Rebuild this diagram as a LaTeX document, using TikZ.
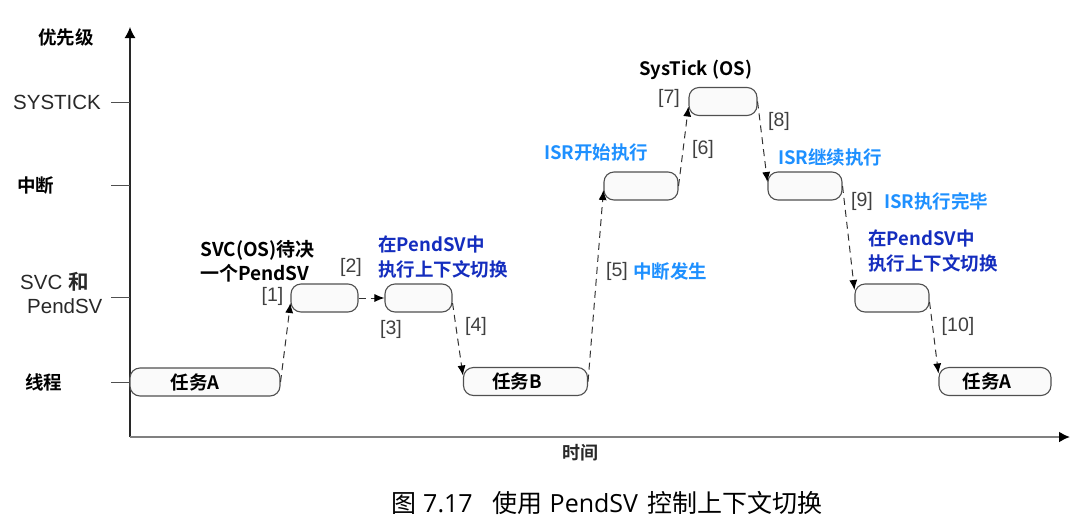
\documentclass[tikz,border=0pt]{standalone}
\usepackage{fontspec}
\setmainfont{Liberation Sans}
\newfontfamily\cjk{Noto Sans CJK SC}[BoldFont={Noto Sans CJK SC Bold}]
\newfontfamily\lat{Open Sans}
\usetikzlibrary{arrows.meta}
\definecolor{lblue}{RGB}{30,144,255}
\definecolor{dblue}{RGB}{20,45,190}
\definecolor{numc}{RGB}{64,64,64}
\definecolor{boxc}{RGB}{80,80,80}
\definecolor{boxfill}{RGB}{250,250,250}
\definecolor{connc}{RGB}{50,50,50}
\definecolor{axisc}{RGB}{40,40,40}
\definecolor{xaxisc}{RGB}{128,128,128}
\begin{document}
\begin{tikzpicture}[x=1pt,y=-1pt,
  box/.style={draw=boxc, line width=1.1pt, rounded corners=10pt, fill=boxfill, minimum height=28pt, inner sep=0pt},
  conn/.style={draw=connc, line width=1pt, dash pattern=on 7pt off 5pt, -{Latex[length=10pt,width=8pt,color=black]}},
  num/.style={text=numc, font=\fontsize{19.5}{22}\selectfont, inner sep=0pt},
  axlbl/.style={text=axisc, font=\fontsize{20.5}{24}\selectfont, inner sep=0pt, anchor=west},
  zh/.style={font=\cjk\bfseries\fontsize{18.5}{25}\selectfont, inner sep=0pt, align=left},
  tick/.style={draw=boxc, line width=1pt}]
\useasboundingbox (0,0) rectangle (1088,531);
% axes
\coordinate (O) at (130,437);
\coordinate (ytop) at (130,27);
\coordinate (xend) at (1070,437);
\draw[line width=1.3pt, draw=axisc, -{Latex[length=11pt,width=11pt,color=black]}] (O) -- (ytop);
\draw[line width=2pt, draw=xaxisc, -{Latex[length=11pt,width=11pt,color=black]}] (O) -- (xend);
% ticks
\coordinate (t1a) at (111,102); \coordinate (t1b) at (130,102);
\coordinate (t2a) at (111,185); \coordinate (t2b) at (130,185);
\coordinate (t3a) at (111,297); \coordinate (t3b) at (130,297);
\coordinate (t4a) at (111,382); \coordinate (t4b) at (130,382);
\draw[tick] (t1a) -- (t1b);
\draw[tick] (t2a) -- (t2b);
\draw[tick] (t3a) -- (t3b);
\draw[tick] (t4a) -- (t4b);
% axis labels
\node[zh, anchor=west] (prio) at (38,37) {优先级};
\node[axlbl] (lsys) at (13,102) {SYSTICK};
\node[zh, anchor=west] (lint) at (17,185) {中断};
\node[axlbl] (lsvc) at (20,282) {SVC {\cjk\bfseries 和}};
\node[axlbl] (lpsv) at (27,306) {PendSV};
\node[zh, anchor=west] (lthr) at (25,382) {线程};
\node[font=\cjk\bfseries\fontsize{18}{22}\selectfont, text=axisc, inner sep=0pt] (ltime) at (580,453) {时间};
% boxes
\node[box, minimum width=150pt] (tA) at (205,382) {};
\node[box, minimum width=67pt] (svc) at (324.5,298) {};
\node[box, minimum width=67pt] (psv) at (418.5,298) {};
\node[box, minimum width=124pt] (tB) at (525.5,381.5) {};
\node[box, minimum width=74pt] (isr) at (641,186) {};
\node[box, minimum width=68pt] (st) at (723,101.5) {};
\node[box, minimum width=74pt] (isr2) at (805,186) {};
\node[box, minimum width=74pt] (psv2) at (892,298) {};
\node[box, minimum width=112pt] (tA2) at (995,381.5) {};
% box labels
\node[zh] (tAt) at (195,382) {任务A};
\node[zh] (tBt) at (517,381.5) {任务B};
\node[zh] (tA2t) at (987,381.5) {任务A};
% connectors
\draw[conn] (tA.east) -- ([yshift=-5pt]svc.west);
\draw[conn] (svc.east) -- (psv.west);
\draw[conn] ([yshift=-5pt]psv.east) -- ([yshift=6pt]tB.west);
\draw[conn] (tB.east) -- ([yshift=-4pt]isr.west);
\draw[conn] (isr.east) -- ([yshift=-5pt]st.west);
\draw[conn] (st.east) -- ([yshift=4pt]isr2.west);
\draw[conn] (isr2.east) -- ([yshift=8pt]psv2.west);
\draw[conn] ([yshift=-4pt]psv2.east) -- ([yshift=8pt]tA2.west);
% numbers
\node[num] (n1) at (272.5,296) {[1]};
\node[num] (n2) at (351,267) {[2]};
\node[num] (n3) at (391,329) {[3]};
\node[num] (n4) at (476,326) {[4]};
\node[num] (n5) at (617,271) {[5]};
\node[num] (n6) at (703,149) {[6]};
\node[num] (n7) at (669,98) {[7]};
\node[num] (n8) at (779,121) {[8]};
\node[num] (n9) at (862,201) {[9]};
\node[num] (n10) at (958,326) {[10]};
% annotations
\node[zh, anchor=west, font=\cjk\bfseries\fontsize{19}{24}\selectfont] (a1) at (200,261) {SVC(OS)待决\\一个PendSV};
\node[zh, anchor=west, text=dblue] (a2) at (378,257) {在PendSV中\\执行上下文切换};
\node[zh, anchor=west, text=lblue] (a5) at (633,271) {中断发生};
\node[zh, anchor=west, text=lblue] (a6) at (544,153) {ISR开始执行};
\node[zh, anchor=west] (a7) at (639,70) {SysTick (OS)};
\node[zh, anchor=west, text=lblue] (a8) at (778,157) {ISR继续执行};
\node[zh, anchor=west, text=lblue] (a9) at (884,201) {ISR执行完毕};
\node[zh, anchor=west, text=dblue] (a10) at (868,251) {在PendSV中\\执行上下文切换};
% caption
\node[font=\fontsize{25}{28}\selectfont, inner sep=0pt, anchor=west] (cap) at (391,503) {{\cjk 图}\hspace{7pt}{\lat 7.17}\hspace{20pt}{\cjk 使用}\hspace{7pt}{\lat PendSV}\hspace{9pt}{\cjk 控制上下文切换}};
\end{tikzpicture}
\end{document}
